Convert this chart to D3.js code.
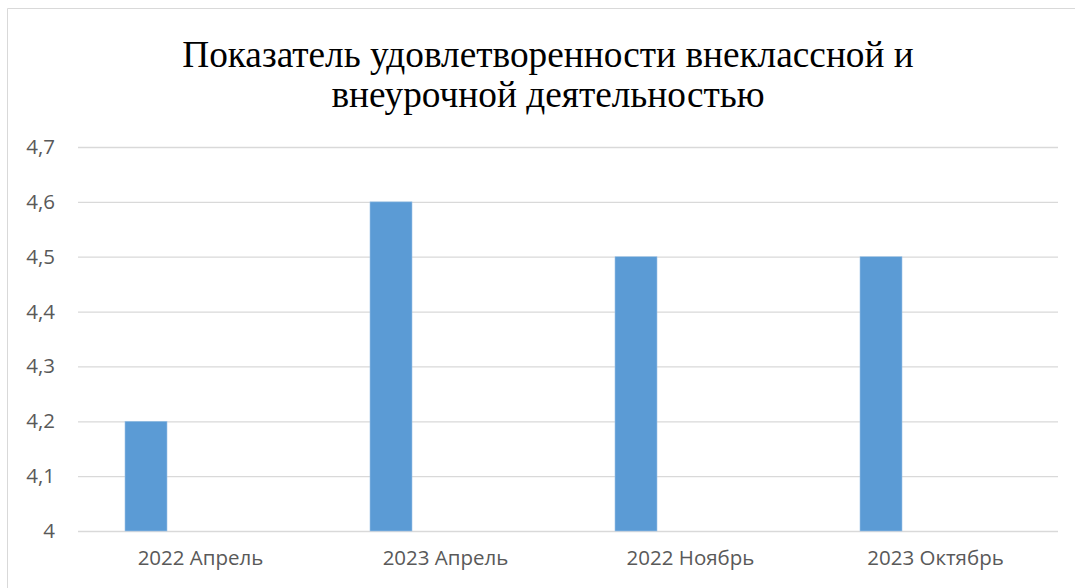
<!DOCTYPE html>
<html>
<head>
<meta charset="utf-8">
<script src="https://cdn.jsdelivr.net/npm/d3@7"></script>
<style>
html,body{margin:0;padding:0;background:#fff;}
svg{display:block;}
</style>
</head>
<body>
<svg id="chart" width="1075" height="588"></svg>
<script>
const categories = ["2022 Апрель", "2023 Апрель", "2022 Ноябрь", "2023 Октябрь"];
const values = [4.2, 4.6, 4.5, 4.5];
const yTicks = [4, 4.1, 4.2, 4.3, 4.4, 4.5, 4.6, 4.7];
const titleLines = ["Показатель удовлетворенности внеклассной и", "внеурочной деятельностью"];

const svg = d3.select("#chart");
const W = 1075, H = 588;
const plot = {left: 78, right: 1058, top: 147, bottom: 531};

// chart area border
svg.append("path")
  .attr("d", `M7.5,${H} V8.5 H${W}`)
  .attr("fill", "none").attr("stroke", "#d9d9d9").attr("stroke-width", 1);

const x = d3.scaleBand().domain(categories).range([plot.left, plot.right]);
const y = d3.scaleLinear().domain([4, 4.7]).range([plot.bottom, plot.top]);

// gridlines
const yAxis = d3.axisLeft(y).tickValues(yTicks).tickSize(-(plot.right - plot.left)).tickPadding(23)
  .tickFormat(d => d3.format(".1f")(d).replace(".", ",").replace(/,0$/, ""));
const gy = svg.append("g").attr("transform", `translate(${plot.left},0)`).call(yAxis);
gy.select(".domain").remove();
gy.selectAll(".tick line").attr("stroke", "#d9d9d9").attr("stroke-width", 1.3);
gy.selectAll(".tick text").attr("fill", "#595959").attr("font-family", "'Open Sans', sans-serif").attr("font-size", "20.5px");

// bars
const barW = 42;
svg.append("g").selectAll("rect").data(values).join("rect")
  .attr("x", (d, i) => x(categories[i]) + 47)
  .attr("width", barW)
  .attr("y", d => y(d))
  .attr("height", d => y(4) - y(d))
  .attr("fill", "#5b9bd5")
  .attr("stroke", "#9dc3e6").attr("stroke-width", 0.6);

// x axis
const xAxis = d3.axisBottom(x).tickSize(0).tickPadding(19);
const gx = svg.append("g").attr("transform", `translate(0,${plot.bottom})`).call(xAxis);
gx.select(".domain").remove();
gx.selectAll(".tick text").attr("fill", "#595959").attr("font-family", "'Open Sans', sans-serif").attr("font-size", "20.5px");

// title
svg.append("g").selectAll("text").data(titleLines).join("text")
  .attr("x", 548).attr("y", (d, i) => 67 + i * 40)
  .attr("text-anchor", "middle")
  .attr("font-family", "'Liberation Serif', 'Times New Roman', serif")
  .attr("font-size", "37.3px").attr("fill", "#000")
  .text(d => d);
</script>
</body>
</html>
